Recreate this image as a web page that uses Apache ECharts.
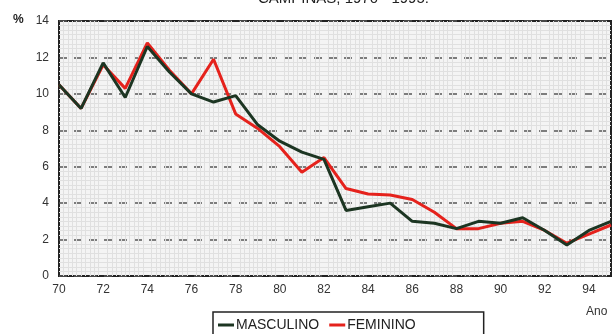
<!DOCTYPE html>
<html>
<head>
<meta charset="utf-8">
<script src="https://cdn.jsdelivr.net/npm/echarts@6/dist/echarts.min.js"></script>
<style>html,body{margin:0;padding:0;background:#fff;}#c{width:613px;height:334px;}</style>
</head>
<body>
<div id="c"></div>
<script>
var years = [70,71,72,73,74,75,76,77,78,79,80,81,82,83,84,85,86,87,88,89,90,91,92,93,94,95];
var masculino = [10.5,9.2,11.7,9.8,12.6,11.2,10.0,9.55,9.9,8.3,7.4,6.8,6.4,3.6,3.8,4.0,3.0,2.9,2.6,3.0,2.9,3.2,2.5,1.7,2.5,3.0];
var feminino  = [10.5,9.2,11.6,10.3,12.8,11.3,10.0,11.9,8.9,8.1,7.1,5.7,6.5,4.8,4.5,4.45,4.2,3.5,2.6,2.6,2.9,3.0,2.5,1.8,2.3,2.8];
var yTicks = [0,2,4,6,8,10,12,14];
var xTicks = [70,72,74,76,78,80,82,84,86,88,90,92,94];
var seriesNames = ['MASCULINO','FEMININO'];
var titleText = 'CAMPINAS, 1970 - 1995.';

function pairs(v){ return years.map(function(y,i){ return [y, v[i]]; }); }

var chart = echarts.init(document.getElementById('c'), null, {renderer:'canvas'});
var font = '"Liberation Sans Narrow", "Liberation Sans", Arial, sans-serif';
chart.setOption({
  animation: false,
  backgroundColor: '#fff',
  graphic: [
    {type:'text', left: 258, top: -9, style:{text: titleText, font: '15px ' + font, fill:'#222'}},
    {type:'text', left: 13, top: 14, style:{text: '%', font: 'bold 12px ' + font, fill:'#222'}},
    {type:'text', left: 586, top: 306, style:{text: 'Ano', font: '12px ' + font, fill:'#333'}}
  ],
  grid: {left: 59, right: 2, top: 21, bottom: 58, show: true, backgroundColor: '#f4f4f4', borderColor: '#222', borderWidth: 2},
  legend: {
    data: seriesNames,
    left: 213, top: 312,
    orient: 'horizontal',
    padding: [6, 68, 12, 5],
    itemGap: 10,
    itemWidth: 16, itemHeight: 3,
    icon: 'rect',
    borderColor: '#222', borderWidth: 1.5,
    backgroundColor: '#fff',
    textStyle: {fontFamily: font, fontSize: 14, color: '#222', padding: [0,0,0,-3]}
  },
  xAxis: {
    type: 'value', min: 70, max: 95, interval: 2,
    axisLine: {show: false}, axisTick: {show: false},
    axisLabel: {showMaxLabel: false, color: '#333', fontFamily: font, fontSize: 12, margin: 8,
      formatter: function(v){ return xTicks.indexOf(v) >= 0 ? String(v) : ''; }},
    splitLine: {show: false},
    minorTick: {show: false, splitNumber: 10},
    minorSplitLine: {show: true, lineStyle: {color: '#e0e0e0', width: 1}}
  },
  yAxis: {
    type: 'value', min: 0, max: 14, interval: 2,
    axisLine: {show: false}, axisTick: {show: false},
    axisLabel: {color: '#333', fontFamily: font, fontSize: 12, margin: 10,
      formatter: function(v){ return yTicks.indexOf(v) >= 0 ? String(v) : ''; }},
    splitLine: {show: true, lineStyle: {color: '#555', width: 1.5, type: [8, 7]}},
    minorTick: {show: false, splitNumber: 8},
    minorSplitLine: {show: true, lineStyle: {color: '#e0e0e0', width: 1}}
  },
  series: [
    {name: 'FEMININO', type: 'line', data: pairs(feminino), showSymbol: false, symbol: 'none',
     lineStyle: {color: '#e5221c', width: 3}, itemStyle: {color: '#e5221c'}, z: 2},
    {name: 'MASCULINO', type: 'line', data: pairs(masculino), showSymbol: false, symbol: 'none',
     lineStyle: {color: '#1c3522', width: 3}, itemStyle: {color: '#1c3522'}, z: 3}
  ]
});
</script>
</body>
</html>
